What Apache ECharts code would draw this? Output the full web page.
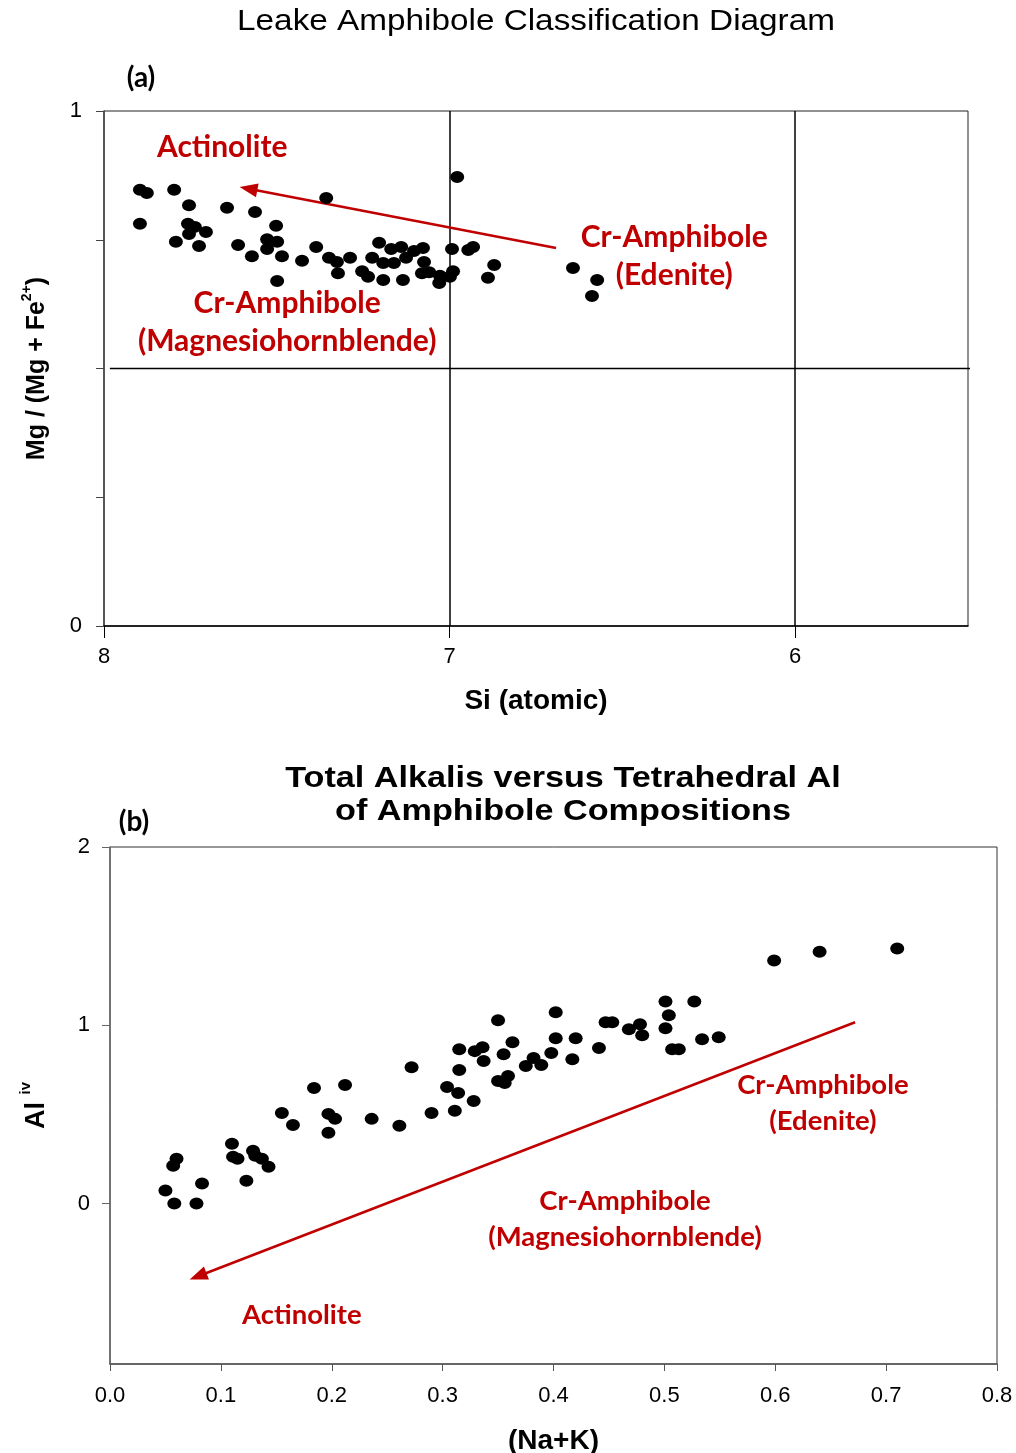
<!DOCTYPE html>
<html>
<head>
<meta charset="utf-8">
<script src="https://cdn.jsdelivr.net/npm/echarts@6/dist/echarts.min.js"></script>
<style>
  html, body { margin: 0; padding: 0; background: #fff; }
  #chart { width: 1016px; height: 1453px; }
</style>
</head>
<body>
<div id="chart"></div>
<script>
// Panel (a): Si atoms per formula unit vs Mg / (Mg + Fe2+)
const siAtomic = [7.896,7.876,7.797,7.754,7.644,7.563,7.357,6.978,7.896,7.757,
                  7.737,7.754,7.705,7.792,7.725,7.502,7.612,7.528,7.499,7.528,
                  7.572,7.485,7.427,7.499,7.386,7.349,7.326,7.288,7.323,7.204,
                  7.224,7.192,7.253,7.236,7.192,7.169,7.140,7.161,7.126,7.103,
                  7.077,7.074,7.135,7.080,7.059,7.028,7.030,6.990,6.999,6.993,
                  6.946,6.932,6.871,6.889,6.643,6.573,6.588];
const mgNumber = [0.847,0.841,0.847,0.817,0.812,0.804,0.831,0.872,0.781,0.781,
                  0.775,0.761,0.765,0.746,0.738,0.777,0.740,0.751,0.746,0.732,
                  0.718,0.718,0.709,0.670,0.736,0.715,0.707,0.715,0.685,0.744,
                  0.715,0.705,0.689,0.678,0.672,0.732,0.736,0.705,0.715,0.728,
                  0.734,0.707,0.672,0.685,0.687,0.680,0.666,0.689,0.678,0.732,
                  0.730,0.736,0.701,0.676,0.695,0.672,0.641];

// Panel (b): total alkalis (Na+K) vs tetrahedral Al
const naK = [0.050,0.058,0.078,0.083,0.060,0.057,0.110,0.111,0.115,0.123,
             0.129,0.131,0.137,0.143,0.155,0.165,0.184,0.197,0.203,0.197,
             0.212,0.236,0.261,0.272,0.290,0.304,0.315,0.315,0.314,0.311,
             0.328,0.329,0.336,0.337,0.350,0.355,0.363,0.350,0.356,0.359,
             0.375,0.382,0.389,0.398,0.402,0.402,0.417,0.420,0.441,0.447,
             0.453,0.468,0.478,0.480,0.501,0.504,0.501,0.527,0.507,0.513,
             0.534,0.549,0.599,0.640,0.710];
const alIV = [0.073,0.000,0.000,0.112,0.251,0.212,0.335,0.263,0.251,0.128,
              0.296,0.268,0.251,0.207,0.508,0.441,0.648,0.503,0.475,0.397,
              0.665,0.475,0.436,0.765,0.508,0.654,0.866,0.749,0.620,0.520,
              0.575,0.855,0.877,0.799,1.028,0.838,0.905,0.687,0.676,0.715,
              0.771,0.816,0.777,0.844,1.073,0.927,0.810,0.927,0.872,1.017,
              1.017,0.978,1.006,0.944,1.134,1.056,0.983,1.134,0.866,0.866,
              0.922,0.933,1.363,1.413,1.430];

// Tick values
const siTicks = [8, 7, 6];
const mgTicks = [0, 1];
const alkaliTicks = [0, 0.1, 0.2, 0.3, 0.4, 0.5, 0.6, 0.7, 0.8];
const alTicks = [0, 1, 2];

// Classification boundaries of panel (a)
const siBoundaries = [7, 6];
const mgBoundary = 0.5;

// Field names and the trend arrows (data coordinates)
const fieldNamesA = ['Actinolite', 'Cr-Amphibole\n(Edenite)', 'Cr-Amphibole\n(Magnesiohornblende)'];
const fieldSiA = [7.658, 6.350, 7.470];
const fieldMgA = [0.930, 0.718, 0.590];
const arrowA = [[6.692, 0.734], [7.582, 0.849]];

const fieldNamesB = ['Cr-Amphibole\n(Edenite)', 'Cr-Amphibole\n(Magnesiohornblende)', 'Actinolite'];
const fieldNaKB = [0.643, 0.4645, 0.173];
const fieldAlB = [0.564, -0.089, -0.626];
const arrowB = [[0.672, 1.017], [0.0794, -0.408]];

const RED = '#c00000';
const SANS = 'Liberation Sans, Arial, sans-serif';
const CAL = 'Lato, Carlito, sans-serif';

const chart = echarts.init(document.getElementById('chart'), null, { renderer: 'canvas' });

function fieldLabel(size, lh) {
  return {
    show: true, position: 'inside', color: RED, fontFamily: CAL,
    fontWeight: 'bold', fontSize: size, lineHeight: lh, align: 'center',
    formatter: p => p.data[2]
  };
}

chart.setOption({
  animation: false,
  backgroundColor: '#fff',
  graphic: [
    { type: 'text', x: 536, y: 22, scaleX: 1.11, style: { text: 'Leake Amphibole Classification Diagram',
      font: 'normal 30px ' + SANS, fill: '#000', align: 'center', verticalAlign: 'middle' } },
    { type: 'text', x: 141, y: 78, style: { text: '(a)',
      font: 'bold 28px ' + CAL, fill: '#000', align: 'center', verticalAlign: 'middle' } },
    { type: 'text', x: 563, y: 795, scaleX: 1.14, style: { text: 'Total Alkalis versus Tetrahedral Al\nof Amphibole Compositions',
      font: 'bold 30px ' + SANS, lineHeight: 33, fill: '#000', align: 'center', verticalAlign: 'middle' } },
    { type: 'text', x: 134, y: 822, style: { text: '(b)',
      font: 'bold 28px ' + CAL, fill: '#000', align: 'center', verticalAlign: 'middle' } }
  ],
  grid: [
    { left: 104, top: 111, width: 864, height: 515, show: true, borderColor: '#222', borderWidth: 1,
      outerBoundsMode: 'none' },
    { left: 110, top: 847, width: 887, height: 517, show: true, borderColor: '#333', borderWidth: 1,
      outerBoundsMode: 'none' }
  ],
  xAxis: [
    {
      gridIndex: 0, type: 'value', min: 5.5, max: 8, inverse: true,
      name: 'Si (atomic)', nameLocation: 'middle', nameGap: 61,
      nameTextStyle: { fontFamily: SANS, fontWeight: 'bold', fontSize: 28, color: '#000' },
      axisLine: { show: true, onZero: false, lineStyle: { color: '#000', width: 1.5 } },
      axisTick: { show: true, customValues: siTicks, length: 12, lineStyle: { color: '#000' } },
      axisLabel: { customValues: siTicks, margin: 20, fontFamily: SANS, fontSize: 22, color: '#000' },
      splitLine: { show: false }
    },
    {
      gridIndex: 1, type: 'value', min: 0, max: 0.8, interval: 0.1,
      name: '(Na+K)', nameLocation: 'middle', nameGap: 63,
      nameTextStyle: { fontFamily: SANS, fontWeight: 'bold', fontSize: 28, color: '#000' },
      axisLine: { show: true, onZero: false, lineStyle: { color: '#555', width: 1.5 } },
      axisTick: { show: true, length: 7, lineStyle: { color: '#555' } },
      axisLabel: { margin: 21, fontFamily: SANS, fontSize: 22, color: '#000',
        formatter: v => alkaliTicks.indexOf(Math.round(v * 10) / 10) >= 0 ? v.toFixed(1) : '' },
      splitLine: { show: false }
    }
  ],
  yAxis: [
    {
      gridIndex: 0, type: 'value', min: 0, max: 1, interval: 0.25,
      name: '{t|Mg / (Mg + Fe}{s|2+}{t|)}', nameLocation: 'middle', nameRotate: 90, nameGap: 50,
      nameTextStyle: {
        rich: {
          t: { fontFamily: SANS, fontWeight: 'bold', fontSize: 25, lineHeight: 34, color: '#000' },
          s: { fontFamily: SANS, fontWeight: 'bold', fontSize: 14, lineHeight: 16, verticalAlign: 'top', color: '#000' }
        }
      },
      axisLine: { show: true, onZero: false, lineStyle: { color: '#444', width: 1.5 } },
      axisTick: { show: true, length: 8, lineStyle: { color: '#444' } },
      axisLabel: { customValues: mgTicks, margin: 22, fontFamily: SANS, fontSize: 22, color: '#000' },
      splitLine: { show: false }
    },
    {
      gridIndex: 1, type: 'value', min: -0.9, max: 2,
      name: '{t|Al }{s|iv}', nameLocation: 'middle', nameRotate: 90, nameGap: 54,
      nameTextStyle: {
        rich: {
          t: { fontFamily: SANS, fontWeight: 'bold', fontSize: 27, lineHeight: 38, color: '#000' },
          s: { fontFamily: SANS, fontWeight: 'bold', fontSize: 15, lineHeight: 14, verticalAlign: 'top', color: '#000' }
        }
      },
      axisLine: { show: true, onZero: false, lineStyle: { color: '#666', width: 1.5 } },
      axisTick: { show: true, customValues: alTicks, length: 8, lineStyle: { color: '#666' } },
      axisLabel: { customValues: alTicks, margin: 20, fontFamily: SANS, fontSize: 22, color: '#000' },
      splitLine: { show: false }
    }
  ],
  series: [
    // (a) Si boundaries at 7 and 6
    {
      type: 'scatter', xAxisIndex: 0, yAxisIndex: 0, data: [], silent: true,
      markLine: {
        silent: true, symbol: ['none', 'none'], label: { show: false },
        lineStyle: { color: '#000', width: 1.5, type: 'solid' },
        data: siBoundaries.map(v => ({ xAxis: v }))
      }
    },
    // (a) Mg-number boundary, drawn slightly past the frame
    {
      type: 'line', xAxisIndex: 0, yAxisIndex: 0, clip: false, silent: true,
      symbol: 'none', lineStyle: { color: '#000', width: 1.5 },
      data: [[7.983, mgBoundary], [5.485, mgBoundary]],
      markLine: {
        silent: true, symbol: ['none', 'triangle'], symbolSize: [14, 18], label: { show: false },
        lineStyle: { color: RED, width: 2.5, type: 'solid' },
        itemStyle: { color: RED },
        data: [[{ coord: arrowA[0] }, { coord: arrowA[1] }]]
      }
    },
    // (a) analyses
    {
      type: 'scatter', xAxisIndex: 0, yAxisIndex: 0, symbol: 'circle', symbolSize: [14, 12],
      itemStyle: { color: '#000', opacity: 1 }, z: 5,
      data: siAtomic.map((v, i) => [v, mgNumber[i]])
    },
    // (a) field names
    {
      type: 'scatter', xAxisIndex: 0, yAxisIndex: 0, symbolSize: 1, silent: true,
      itemStyle: { color: 'rgba(0,0,0,0)', opacity: 1 }, z: 6,
      label: fieldLabel(30, 38),
      data: fieldNamesA.map((t, i) => [fieldSiA[i], fieldMgA[i], t])
    },
    // (b) trend arrow
    {
      type: 'scatter', xAxisIndex: 1, yAxisIndex: 1, data: [], silent: true,
      markLine: {
        silent: true, symbol: ['none', 'triangle'], symbolSize: [14, 18], label: { show: false },
        lineStyle: { color: RED, width: 2.5, type: 'solid' },
        itemStyle: { color: RED },
        data: [[{ coord: arrowB[0] }, { coord: arrowB[1] }]]
      }
    },
    // (b) analyses
    {
      type: 'scatter', xAxisIndex: 1, yAxisIndex: 1, symbol: 'circle', symbolSize: [14, 12],
      itemStyle: { color: '#000', opacity: 1 }, z: 5,
      data: naK.map((v, i) => [v, alIV[i]])
    },
    // (b) field names
    {
      type: 'scatter', xAxisIndex: 1, yAxisIndex: 1, symbolSize: 1, silent: true,
      itemStyle: { color: 'rgba(0,0,0,0)', opacity: 1 }, z: 6,
      label: fieldLabel(27.5, 36),
      data: fieldNamesB.map((t, i) => [fieldNaKB[i], fieldAlB[i], t])
    }
  ]
});
</script>
</body>
</html>
